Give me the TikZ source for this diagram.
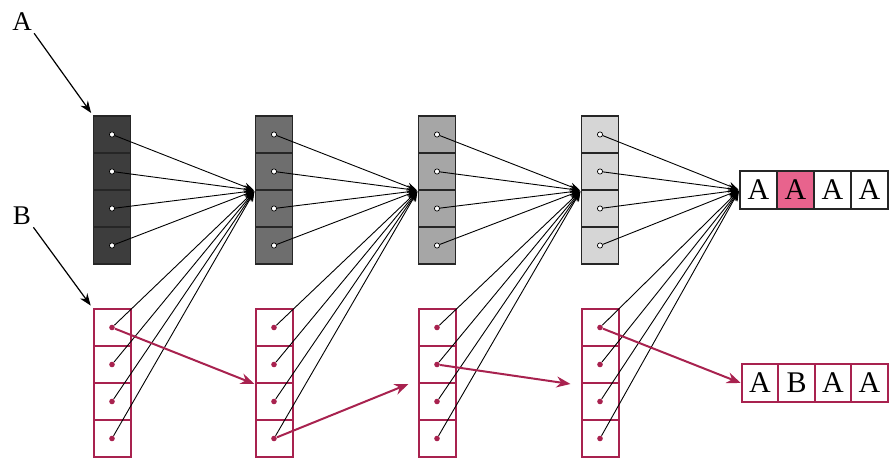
\documentclass[tikz,border=0pt]{standalone}
\usepackage{fontspec}
\setmainfont{Liberation Serif}
\usetikzlibrary{arrows.meta}
\definecolor{wine}{HTML}{A8224F}
\definecolor{rose}{HTML}{E8638D}
\tikzset{
  cell/.style={draw=black!85,minimum width=18.5pt,minimum height=18.5pt,inner sep=0pt,line width=0.6pt},
  rcell/.style={draw=wine,minimum width=18.5pt,minimum height=18.5pt,inner sep=0pt,line width=1pt},
  wire/.style={line width=0.45pt,shorten >=0.5pt,-{Stealth[length=5pt,width=4pt]}},
  dotw/.style={circle,draw,fill=white,inner sep=0pt,minimum size=2.6pt,line width=0.35pt},
  dotr/.style={circle,fill=wine,inner sep=0pt,minimum size=2.8pt},
  redarr/.style={wine,line width=1pt,-{Stealth[length=7pt,width=5.5pt]}},
  pointer/.style={line width=0.6pt,shorten >=1.5pt,-{Stealth[length=6pt,width=4.5pt]}},
  letter/.style={font=\fontsize{15}{15}\selectfont},
  lbl/.style={font=\fontsize{13.5}{13.5}\selectfont,inner sep=1pt}
}

\begin{document}
\begin{tikzpicture}[x=0.5pt,y=-0.5pt]
\useasboundingbox (0,0) rectangle (892,458);
% the four columns, gray on top and red below
\foreach \c/\x/\g in {1/112/76,2/274/57,3/437/35,4/600/16}{
  \foreach \r/\y in {1/134.5,2/171.5,3/208.5,4/245.5}{
    \node[cell,fill=black!\g] (t\c-\r) at (\x,\y) {};
    \node[dotw] (dt\c-\r) at (t\c-\r) {};
  }
  \foreach \r/\y in {1/327.5,2/364.5,3/401.5,4/438.5}{
    \node[rcell] (b\c-\r) at (\x,\y) {};
    \node[dotr] (db\c-\r) at (b\c-\r) {};
  }
}
% results
\foreach \i/\t/\f in {1/A/white,2/A/rose,3/A/white,4/A/white}
  \node[cell,letter,fill=\f,minimum height=19pt] (o\i) at (721.5+37*\i,190) {\t};
\foreach \i/\t in {1/A,2/B,3/A,4/A}
  \node[rcell,letter,minimum width=18.25pt,minimum height=19pt] (p\i) at (723.5+36.5*\i,383) {\t};
% wires into the next column
\foreach \c/\n in {1/t2-2.south west,2/t3-2.south west,3/t4-2.south west,4/o1.west}
  \foreach \r in {1,...,4}{
    \draw[wire] (dt\c-\r) -- (\n);
    \draw[wire] (db\c-\r) -- (\n);
  }
% red moves
\draw[redarr] (db1-1) -- (b2-2.south west);
\draw[redarr] (db2-4) -- ([xshift=-4.5pt]b3-2.south west);
\draw[redarr] (db3-2) -- ([xshift=-5pt]b4-2.south west);
\draw[redarr] (db4-1) -- (p1.west);
% labels
\node[lbl] (labA) at (22,22) {A};
\node[lbl] (labB) at (22,216) {B};
\draw[pointer] (labA.south east) -- (t1-1.north west);
\draw[pointer] (labB.south east) -- (b1-1.north west);
\end{tikzpicture}
\end{document}
